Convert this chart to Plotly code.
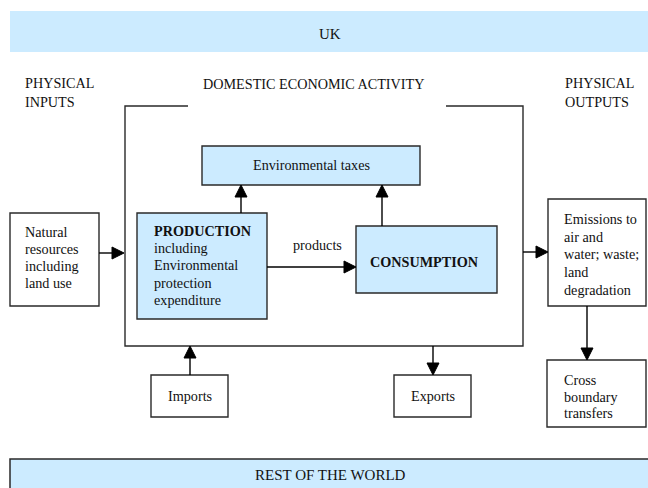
import plotly.graph_objects as go

W, H = 648, 488
BLUE = "#CCEBFF"
LINE = "#2a2a2a"
FONT = "Liberation Serif"
FS = 14.2

# Bands: (x0, y0, x1, y1, label, text_y, border)
bands = [
    (10, 11, 648, 52, "UK", 34, False),
    (10, 459, 649, 490, "REST OF THE WORLD", 475, True),
]

# Boxes: (x0, y0, x1, y1, fill)
boxes = {
    "natural": (10, 213, 99, 306, "white"),
    "taxes": (202, 146, 420, 185, BLUE),
    "production": (137, 213, 267, 319, BLUE),
    "consumption": (356, 226, 497, 293, BLUE),
    "emissions": (548, 199, 646, 306, "white"),
    "imports": (151, 375, 228, 417, "white"),
    "exports": (394, 375, 471, 417, "white"),
    "cross": (547, 360, 646, 427, "white"),
}

# Multi-line left aligned texts: (x, first_y, spacing, lines, bold_first)
left_texts = [
    (23, 232, 17, ["Natural", "resources", "including", "land use"], False),
    (152, 231, 17.2, ["PRODUCTION", "including", "Environmental", "protection", "expenditure"], True),
    (562, 219, 17.7, ["Emissions to", "air and", "water; waste;", "land", "degradation"], False),
    (562, 380, 16.5, ["Cross", "boundary", "transfers"], False),
    (23, 83, 19, ["PHYSICAL", "INPUTS"], False),
    (563, 83, 19, ["PHYSICAL", "OUTPUTS"], False),
]

# Centered texts: (x, y, text, bold)
center_texts = [
    (313, 84, "DOMESTIC ECONOMIC ACTIVITY", False),
    (311, 165, "Environmental taxes", False),
    (424, 262, "CONSUMPTION", True),
    (317, 245, "products", False),
    (190, 396, "Imports", False),
    (433, 396, "Exports", False),
]

# Main activity frame (open top with gap)
frame_pts = [(188, 106), (125, 106), (125, 346), (523, 346), (523, 106), (446, 106)]

# Arrows: (x_start, y_start, x_tip, y_tip)
arrows = [
    (99, 253, 124, 253),
    (523, 252, 548, 252),
    (241, 213, 241, 185),
    (382, 226, 382, 185),
    (267, 267, 356, 267),
    (190, 375, 190, 346),
    (433, 346, 433, 375),
    (587, 306, 587, 360),
]

fig = go.Figure()
shapes = []
annotations = []

for x0, y0, x1, y1, label, ty, border in bands:
    shapes.append(dict(type="rect", x0=x0, y0=y0, x1=x1, y1=y1, fillcolor=BLUE,
                       line=dict(width=0), layer="below"))
    if border:
        shapes.append(dict(type="path", path=f"M {x0},{y1} L {x0},{y0} L {x1},{y0}",
                           line=dict(color=LINE, width=1.5)))
    annotations.append(dict(x=(x0 + min(x1, W)) / 2 + 1, y=ty, text=label, showarrow=False,
                            xanchor="center", yanchor="middle",
                            font=dict(family=FONT, size=15, color="#111")))

for key, (x0, y0, x1, y1, fill) in boxes.items():
    shapes.append(dict(type="rect", x0=x0, y0=y0, x1=x1, y1=y1, fillcolor=fill,
                       line=dict(color=LINE, width=1.4)))

path = "M " + " L ".join(f"{x},{y}" for x, y in frame_pts)
shapes.append(dict(type="path", path=path, line=dict(color=LINE, width=1.4)))

HL, HW = 12, 6
for xs, ys, xt, yt in arrows:
    if ys == yt:
        d = 1 if xt > xs else -1
        bx = xt - d * HL
        shapes.append(dict(type="line", x0=xs, y0=ys, x1=bx, y1=yt, line=dict(color="#000", width=1.4)))
        shapes.append(dict(type="path", path=f"M {bx},{yt-HW} L {xt},{yt} L {bx},{yt+HW} Z",
                           fillcolor="#000", line=dict(color="#000", width=1)))
    else:
        d = 1 if yt > ys else -1
        by = yt - d * HL
        shapes.append(dict(type="line", x0=xs, y0=ys, x1=xt, y1=by, line=dict(color="#000", width=1.4)))
        shapes.append(dict(type="path", path=f"M {xt-HW},{by} L {xt},{yt} L {xt+HW},{by} Z",
                           fillcolor="#000", line=dict(color="#000", width=1)))

for x, y0, sp, lines, bold_first in left_texts:
    for i, t in enumerate(lines):
        txt = f"<b>{t}</b>" if (bold_first and i == 0) else t
        annotations.append(dict(x=x, y=y0 + i * sp, text=txt, showarrow=False,
                                xanchor="left", yanchor="middle",
                                font=dict(family=FONT, size=FS, color="#111")))

for x, y, t, bold in center_texts:
    annotations.append(dict(x=x, y=y, text=f"<b>{t}</b>" if bold else t, showarrow=False,
                            xanchor="center", yanchor="middle",
                            font=dict(family=FONT, size=FS, color="#111")))

fig.update_layout(
    width=W, height=H, margin=dict(l=0, r=0, t=0, b=0),
    paper_bgcolor="white", plot_bgcolor="white",
    xaxis=dict(range=[0, W], visible=False, fixedrange=True),
    yaxis=dict(range=[H, 0], visible=False, fixedrange=True),
    shapes=shapes, annotations=annotations, showlegend=False,
)

fig.write_html("out.html", config={"displayModeBar": False},
               post_script="document.body.style.margin='0';document.body.style.overflow='hidden';")
